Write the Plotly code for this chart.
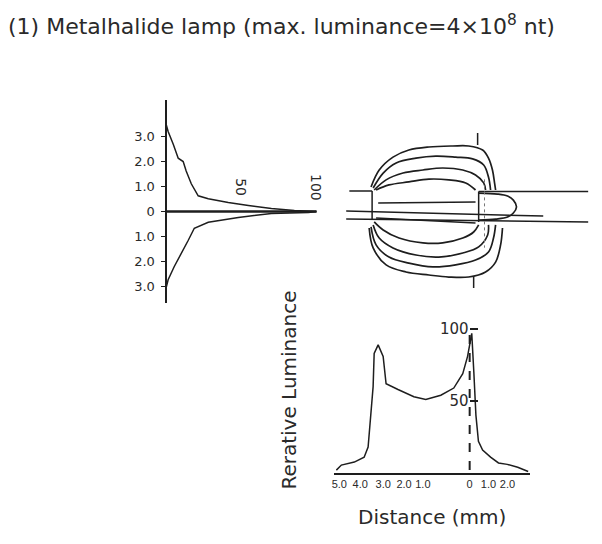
import plotly.graph_objects as go

W, H = 602, 544

# ---------------- data ----------------
# Left panel: vertical luminance profile (distance in mm, relative luminance %)
prof_top_dist = [3.48, 3.2, 2.69, 2.13, 2.0, 1.62, 1.11, 0.63, 0.51, 0.36, 0.24, 0.12, 0.04, 0.0]
prof_top_lum = [0, 1.3, 4.7, 8, 11.3, 13.3, 16.7, 21.3, 28, 41.3, 54.7, 70, 85.3, 100]
prof_bot_dist = [0.0, -0.04, -0.08, -0.24, -0.43, -0.67, -1.15, -1.66, -2.21, -2.73, -3.04]
prof_bot_lum = [100, 94.7, 70, 48, 28, 18.7, 14.7, 10, 5.3, 1.3, 0]
left_tick_vals = [3, 2, 1, 0, -1, -2, -3]
left_tick_text = ["3.0", "2.0", "1.0", "0", "1.0", "2.0", "3.0"]
left_lum_labels = [50, 100]

# Top-right panel: iso-luminance contours (mm), outer (1) to inner (4)
c1_top_x = [-5.10, -4.71, -4.05, -3.29, -2.33, -1.19, -0.43, 0.24, 0.52, 0.71, 0.81, 0.86]
c1_top_y = [0.95, 1.62, 2.13, 2.41, 2.53, 2.57, 2.57, 2.41, 2.09, 1.62, 1.11, 0.83]
c2_top_x = [-5.0, -4.52, -3.90, -2.95, -2.0, -1.05, -0.24, 0.29, 0.52, 0.62]
c2_top_y = [0.91, 1.50, 1.90, 2.09, 2.17, 2.13, 2.06, 1.82, 1.34, 0.83]
c3_top_x = [-4.95, -4.38, -3.57, -2.62, -1.67, -0.71, -0.10, 0.29, 0.38]
c3_top_y = [0.83, 1.23, 1.50, 1.62, 1.70, 1.62, 1.42, 1.11, 0.83]
c4_top_x = [-4.86, -4.24, -3.29, -2.33, -1.38, -0.57, -0.10]
c4_top_y = [0.83, 1.03, 1.15, 1.26, 1.23, 1.11, 0.83]
c1_bot_x = [-5.19, -5.0, -4.38, -3.43, -2.33, -1.38, -0.43, 0.38, 0.86, 1.10, 1.19]
c1_bot_y = [-0.67, -1.46, -2.13, -2.41, -2.53, -2.61, -2.61, -2.41, -2.02, -1.34, -0.67]
c2_bot_x = [-5.10, -4.86, -4.24, -3.29, -2.14, -1.05, -0.10, 0.52, 0.76, 0.86]
c2_bot_y = [-0.63, -1.34, -1.82, -2.06, -2.21, -2.13, -1.94, -1.62, -1.07, -0.55]
c3_bot_x = [-5.0, -4.71, -4.05, -2.95, -1.86, -0.71, 0.05, 0.48, 0.52]
c3_bot_y = [-0.55, -1.07, -1.46, -1.74, -1.82, -1.66, -1.42, -0.95, -0.55]
c4_bot_x = [-4.95, -4.52, -3.76, -2.62, -1.67, -0.71, -0.19, 0.05]
c4_bot_y = [-0.43, -0.75, -1.07, -1.26, -1.26, -1.07, -0.83, -0.55]
tip_x = [0.05, 0.95, 1.43, 1.71, 1.86, 1.71, 1.43, 0.86, 0.05]
tip_y = [0.71, 0.67, 0.59, 0.43, 0.16, -0.08, -0.24, -0.32, -0.36]

# electrodes / arc lines and axis markers (segment endpoints, mm)
seg_x0 = [-6.14, -5.05, 0.05, 0.05, -6.29, -6.29, -4.76, -4.86, 0.0, -0.19]
seg_y0 = [0.79, 0.79, 0.77, 0.77, 0.0, -0.32, 0.32, -0.28, 3.08, -2.61]
seg_x1 = [-5.05, -5.05, 5.29, 0.05, 3.14, 5.29, -0.10, -0.10, 0.0, -0.19]
seg_y1 = [0.79, -0.36, 0.77, -0.43, -0.20, -0.43, 0.36, -0.47, 2.61, -3.04]
dot_x = [0.33, 0.33]
dot_y = [1.25, -1.45]

# Bottom panel: horizontal luminance profile
dist_mm = [-6.38, -6.14, -5.52, -5.05, -4.86, -4.76, -4.62, -4.57, -4.38, -4.14, -4.0, -3.43, -2.67,
           -2.1, -1.38, -0.76, -0.33, -0.1, 0.05, 0.1, 0.2, 0.3, 0.42, 0.62, 1.0, 1.38, 1.8, 2.3, 2.8]
rel_lum = [2, 5.5, 7.6, 11, 18, 37, 60, 83, 89, 81, 62, 58, 53,
           51, 54, 59, 69, 81, 92, 97, 70, 40, 22, 16, 11, 7, 6, 4, 1]
bot_tick_pos = [-6.24, -5.24, -4.14, -3.14, -2.24, 0.0, 0.90, 1.81]
bot_tick_text = ["5.0", "4.0", "3.0", "2.0", "1.0", "0", "1.0", "2.0"]
bot_lum_ticks = [50, 100]

# ---------------- figure ----------------
INK = "#1e1e1e"
TXT = "#2a2a2a"
FONT = "DejaVu Sans"


def fx(px):
    return px / W


def fy(py):
    return 1 - py / H


fig = go.Figure()
line = dict(color=INK, width=1.5)

# left panel
fig.add_trace(go.Scatter(x=prof_top_lum, y=prof_top_dist, mode="lines", line=line, xaxis="x", yaxis="y"))
fig.add_trace(go.Scatter(x=prof_bot_lum, y=prof_bot_dist, mode="lines", line=line, xaxis="x", yaxis="y"))
fig.add_trace(go.Scatter(x=[0, 100], y=[0, 0], mode="lines", line=dict(color=INK, width=2.5),
                         xaxis="x", yaxis="y"))

# contour panel
for cx, cy in [(c1_top_x, c1_top_y), (c2_top_x, c2_top_y), (c3_top_x, c3_top_y), (c4_top_x, c4_top_y),
               (c1_bot_x, c1_bot_y), (c2_bot_x, c2_bot_y), (c3_bot_x, c3_bot_y), (c4_bot_x, c4_bot_y),
               (tip_x, tip_y)]:
    fig.add_trace(go.Scatter(x=cx, y=cy, mode="lines", line=dict(color=INK, width=1.7, shape="spline"),
                             xaxis="x2", yaxis="y2"))
sx, sy = [], []
for a, b, c, d in zip(seg_x0, seg_y0, seg_x1, seg_y1):
    sx += [a, c, None]
    sy += [b, d, None]
fig.add_trace(go.Scatter(x=sx, y=sy, mode="lines", line=dict(color=INK, width=1.5),
                         xaxis="x2", yaxis="y2"))
fig.add_trace(go.Scatter(x=dot_x, y=dot_y, mode="lines", line=dict(color="#777", width=1, dash="dot"),
                         xaxis="x2", yaxis="y2"))

# bottom panel
fig.add_trace(go.Scatter(x=dist_mm, y=rel_lum, mode="lines", line=dict(color=INK, width=1.5),
                         xaxis="x3", yaxis="y3"))
fig.add_trace(go.Scatter(x=[0, 0], y=[2, 100], mode="lines", line=dict(color=INK, width=2, dash="dash"),
                         xaxis="x3", yaxis="y3"))

fig.update_layout(
    width=W, height=H, margin=dict(l=0, r=0, t=0, b=0),
    paper_bgcolor="white", plot_bgcolor="rgba(0,0,0,0)",
    showlegend=False,
    font=dict(family=FONT, color=TXT),
    # left panel
    xaxis=dict(domain=[fx(150), fx(330)], range=[-9.27, 109.9], visible=False),
    yaxis=dict(domain=[fy(303), fy(100)], range=[-3.66, 4.46], anchor="free", position=fx(164),
               showline=True, linecolor=INK, linewidth=1.5, showgrid=False, zeroline=False,
               tickvals=left_tick_vals, ticktext=left_tick_text, ticks="outside", ticklen=4,
               tickcolor=INK, ticklabelstandoff=4, tickfont=dict(size=13, color=TXT)),
    # contour panel
    xaxis2=dict(domain=[fx(330), fx(600)], range=[-7.0, 5.857], visible=False),
    yaxis2=dict(domain=[fy(300), fy(120)], range=[-3.518, 3.597], anchor="x2", visible=False),
    # bottom panel
    xaxis3=dict(domain=[fx(333), fx(530)], range=[-6.476, 2.905], anchor="y3",
                showline=True, linecolor=INK, linewidth=2, showgrid=False, zeroline=False,
                tickvals=bot_tick_pos, ticktext=bot_tick_text, ticks="", tickangle=0,
                tickfont=dict(size=11, family="Liberation Sans Narrow, Liberation Sans", color=TXT)),
    yaxis3=dict(domain=[fy(473), fy(310)], range=[0, 113.2], anchor="free", position=fx(468),
                showline=False, showgrid=False, zeroline=False,
                tickvals=bot_lum_ticks, ticktext=[str(v) for v in bot_lum_ticks],
                ticks="inside", ticklen=8, tickwidth=2, tickcolor=INK,
                tickfont=dict(size=15, color=TXT)),
)

annotations = [
    dict(x=fx(3), y=fy(25), xref="paper", yref="paper", xanchor="left", yanchor="middle",
         text="(1) Metalhalide lamp (max. luminance=4×10<sup>8</sup> nt)", showarrow=False,
         font=dict(size=22, color=TXT)),
    dict(x=fx(287), y=fy(390), xref="paper", yref="paper", xanchor="center", yanchor="middle",
         text="Rerative Luminance", showarrow=False, textangle=-90, font=dict(size=20, color=TXT)),
    dict(x=fx(431), y=fy(517), xref="paper", yref="paper", xanchor="center", yanchor="middle",
         text="Distance (mm)", showarrow=False, font=dict(size=20, color=TXT)),
]
for v in left_lum_labels:
    annotations.append(dict(x=v, y=0.96, xref="x", yref="y", text=str(v), showarrow=False,
                            xanchor="center", yanchor="middle",
                            textangle=90, font=dict(size=14, color=TXT)))
fig.update_layout(annotations=annotations)

fig.write_html("out.html", config={"displayModeBar": False},
               post_script="document.body.style.margin='0';")
